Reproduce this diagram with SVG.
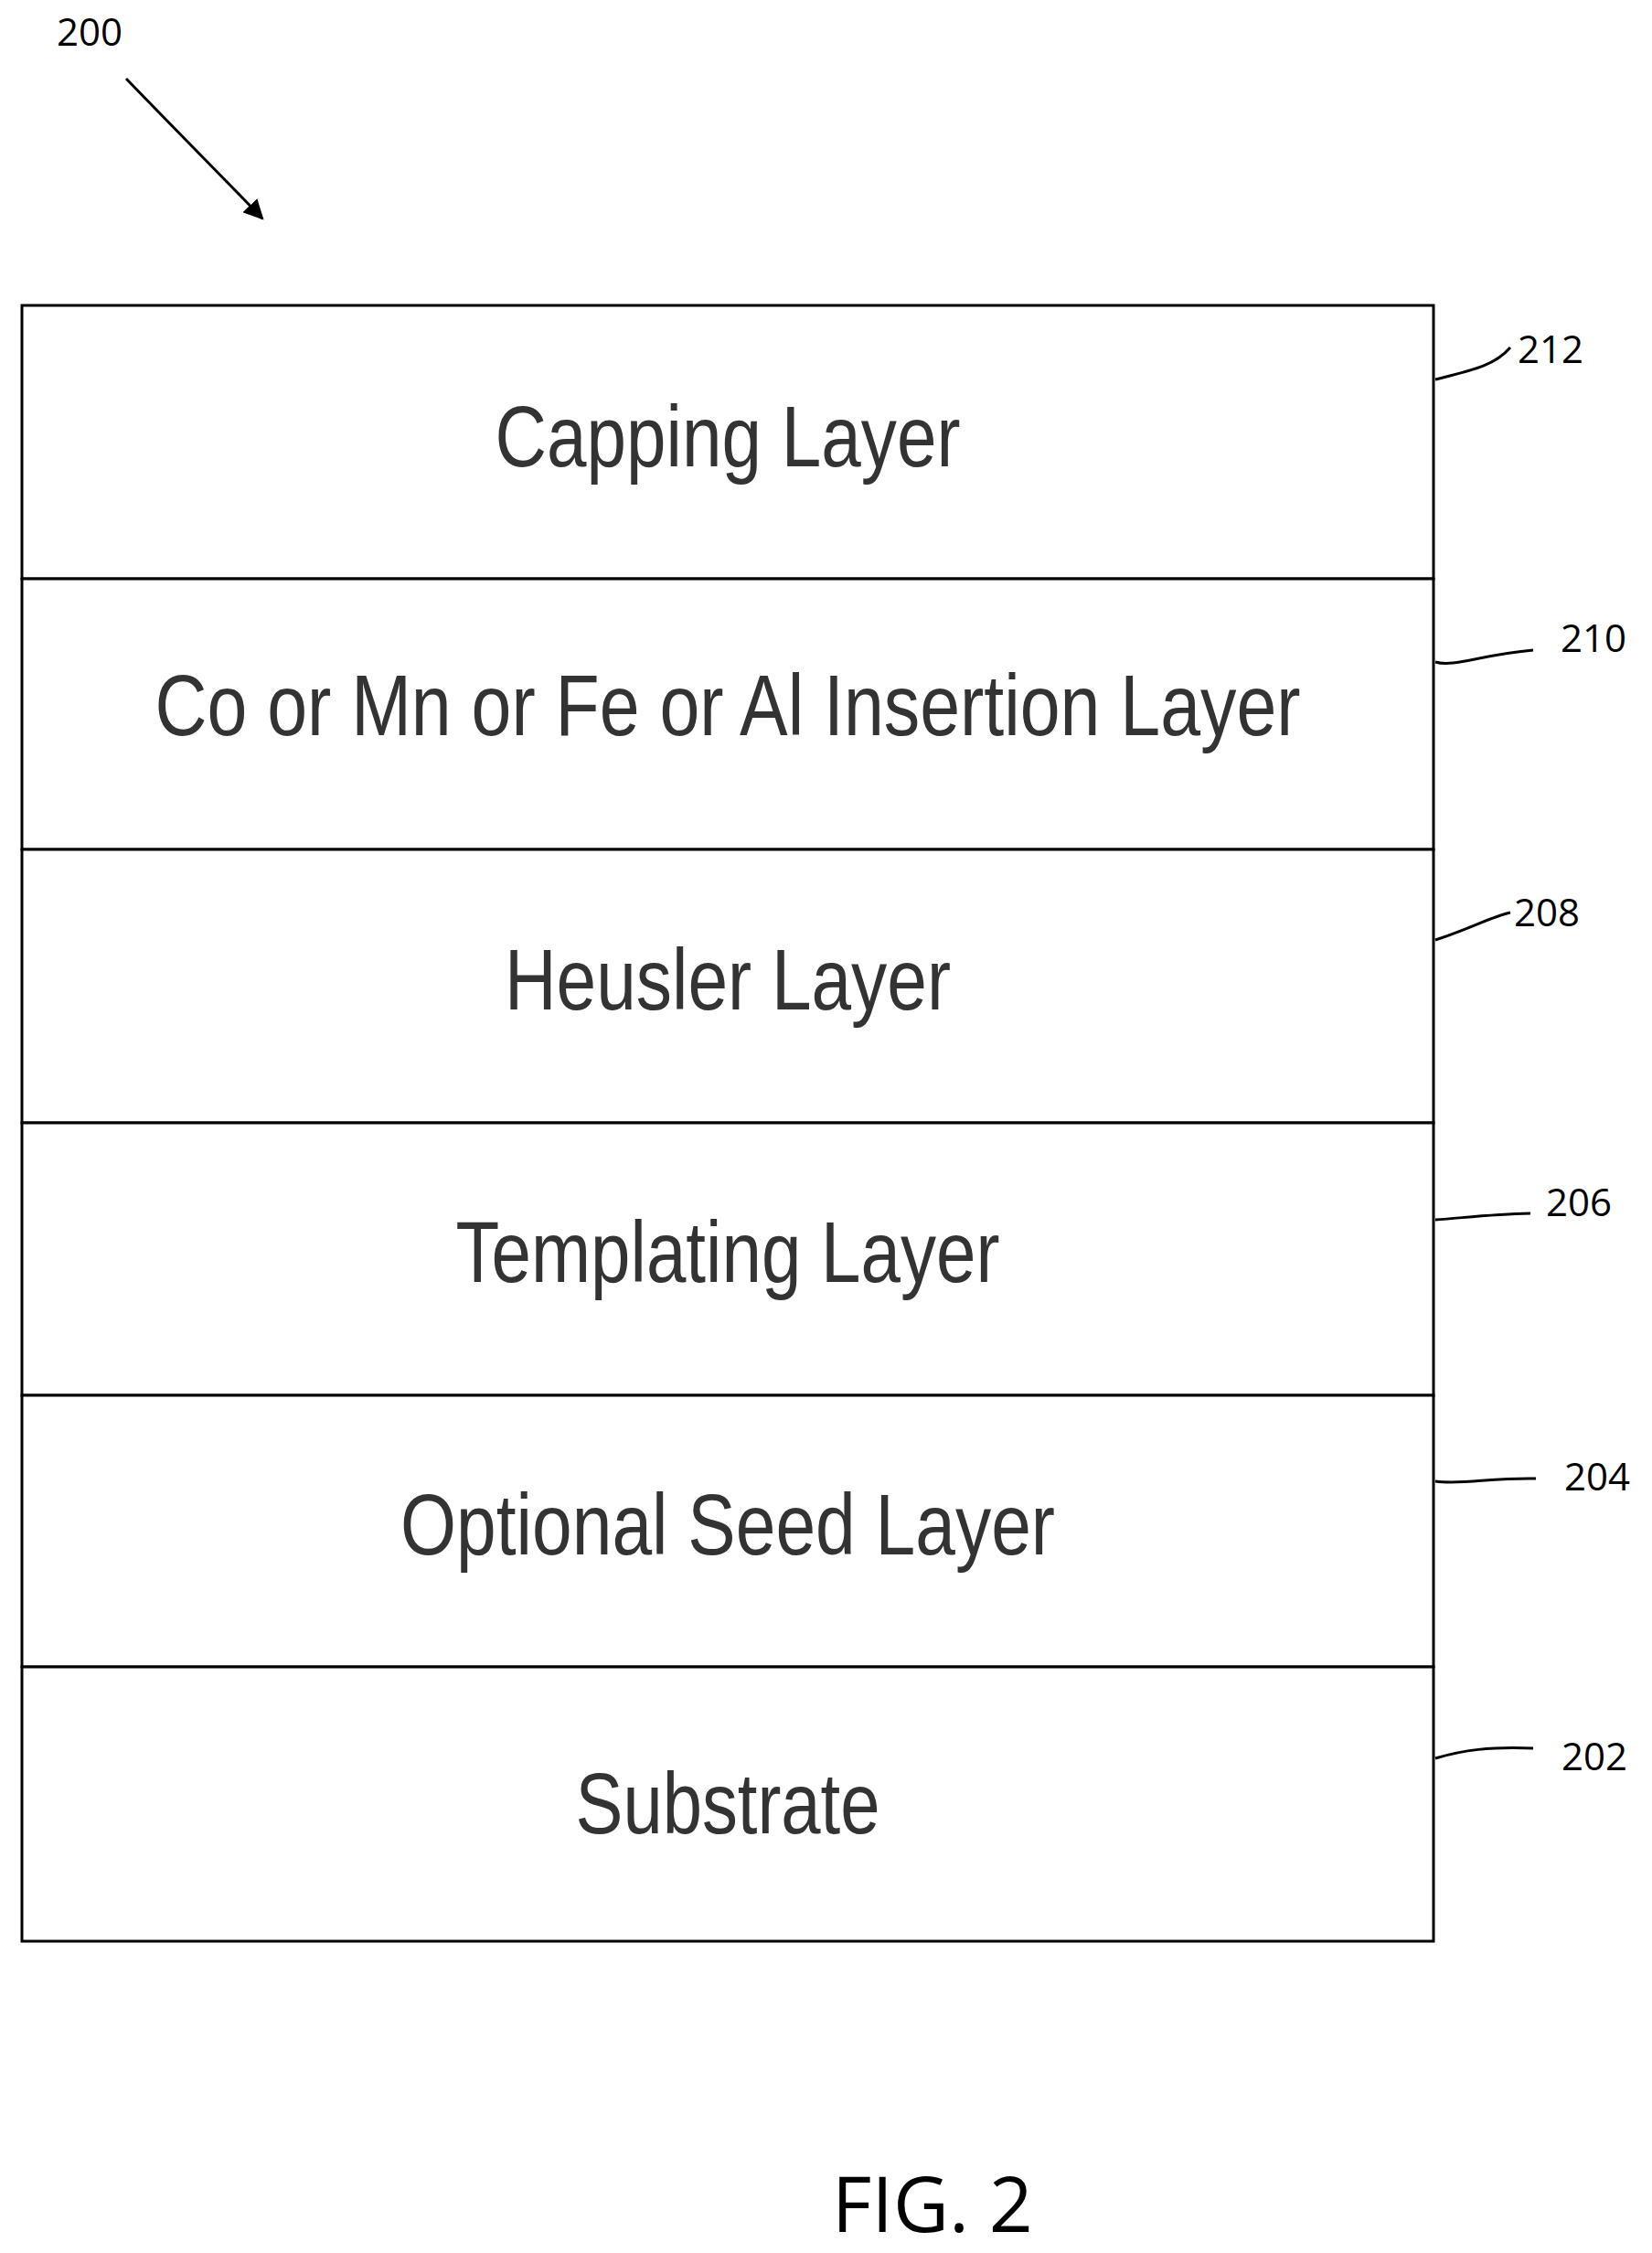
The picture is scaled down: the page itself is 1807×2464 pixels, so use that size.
<svg xmlns="http://www.w3.org/2000/svg" width="1807" height="2464" viewBox="0 0 1807 2464">
<style>
.lbl{font-family:"Liberation Sans",Arial,sans-serif;font-size:95px;fill:#333;text-anchor:middle}
.ref{font-family:"Open Sans","Liberation Sans",sans-serif;font-size:42px;fill:#000}
.lay{fill:#fff;stroke:#000;stroke-width:3}
.ld{fill:none;stroke:#000;stroke-width:3}
</style>
<defs><marker id="ah" viewBox="0 0 10 10" refX="9" refY="5" markerWidth="8" markerHeight="8" orient="auto" markerUnits="userSpaceOnUse"><path d="M0,0 L10,5 L0,10 z" fill="#000"/></marker>
<marker id="ah2" viewBox="0 0 10 10" refX="9" refY="5" markerWidth="22" markerHeight="22" orient="auto" markerUnits="userSpaceOnUse"><path d="M0,0 L10,5 L0,10 z" fill="#000"/></marker></defs>
<rect width="1807" height="2464" fill="#fff"/>
<g id="n212"><rect class="lay" x="24" y="334" width="1544" height="299"/><text class="lbl" x="796" y="510" textLength="509" lengthAdjust="spacingAndGlyphs">Capping Layer</text></g>
<g id="n210"><rect class="lay" x="24" y="633" width="1544" height="296"/><text class="lbl" x="796" y="804" textLength="1253" lengthAdjust="spacingAndGlyphs">Co or Mn or Fe or Al Insertion Layer</text></g>
<g id="n208"><rect class="lay" x="24" y="929" width="1544" height="299"/><text class="lbl" x="796" y="1104" textLength="488" lengthAdjust="spacingAndGlyphs">Heusler Layer</text></g>
<g id="n206"><rect class="lay" x="24" y="1228" width="1544" height="298"/><text class="lbl" x="796" y="1402" textLength="595" lengthAdjust="spacingAndGlyphs">Templating Layer</text></g>
<g id="n204"><rect class="lay" x="24" y="1526" width="1544" height="297"/><text class="lbl" x="796" y="1700" textLength="716" lengthAdjust="spacingAndGlyphs">Optional Seed Layer</text></g>
<g id="n202"><rect class="lay" x="24" y="1823" width="1544" height="300"/><text class="lbl" x="796" y="2005" textLength="333" lengthAdjust="spacingAndGlyphs">Substrate</text></g>
<g id="connectors">
<path class="ld" d="M1570,415 C1610,405 1635,400 1652,380"/>
<path class="ld" d="M1570,724 C1590,730 1620,716 1677,711"/>
<path class="ld" d="M1570,1028 C1610,1015 1630,1003 1652,998"/>
<path class="ld" d="M1570,1334 C1600,1332 1630,1328 1674,1327"/>
<path class="ld" d="M1570,1620 C1600,1624 1630,1616 1680,1617"/>
<path class="ld" d="M1570,1923 C1600,1914 1630,1910 1677,1912"/>
<path class="ld" d="M138,86 C190,140 240,190 287,239" marker-end="url(#ah2)"/>
</g>
<g id="labels">
<text class="ref" x="1660" y="397">212</text>
<text class="ref" x="1707" y="713">210</text>
<text class="ref" x="1656" y="1013">208</text>
<text class="ref" x="1691" y="1330">206</text>
<text class="ref" x="1711" y="1630">204</text>
<text class="ref" x="1708" y="1936">202</text>
<text class="ref" x="62" y="50">200</text>
<text x="1020" y="2441" font-family="Open Sans,Liberation Sans,sans-serif" font-size="84" text-anchor="middle" fill="#000">FIG. 2</text>
</g>
</svg>
